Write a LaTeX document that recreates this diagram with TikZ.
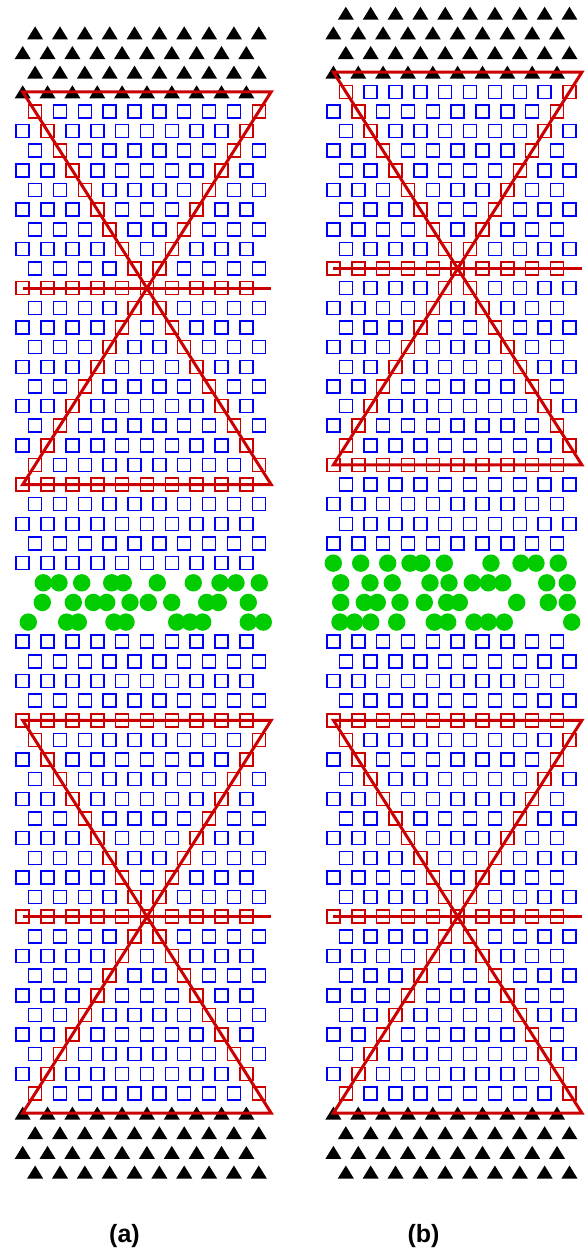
\documentclass[tikz,border=0pt]{standalone}
\usepackage{fontspec}
\setmainfont{Liberation Sans}
\definecolor{latred}{RGB}{204,0,0}
\definecolor{latblue}{RGB}{0,0,255}
\definecolor{latgreen}{RGB}{0,204,0}
\tikzset{
  bluesq/.style={draw=latblue,line width=1.5pt},
  redsq/.style={draw=latred,line width=1.5pt},
  tri/.style={fill=black},
  atomgreen/.style={fill=latgreen},
  redline/.style={draw=latred,line width=3pt},
  lbl/.style={font=\fontsize{25}{30}\selectfont\bfseries}
}
% one row of squares: #1 X0, #2 row index (y), #3 parity, #4 j (-1 = outside)
\newcommand\latsq[4]{%
  \pgfmathsetmacro\yy{1172-19.64*(#2)}%
  \foreach \kk in {0,...,9}{%
    \pgfmathtruncatemacro\hh{2*\kk+#3}%
    \pgfmathtruncatemacro\isred{((#4)>-1)&&((\hh==(#4))||(\hh==20-(#4))||((#4)==10)||((#4)==0)||((#4)==20))}%
    \pgfmathsetmacro\xx{#1+\hh*12.425}%
    \ifnum\isred=1\relax
      \draw[redsq] ({\xx-6.5},{\yy-6.5}) rectangle ({\xx+6.5},{\yy+6.5});
    \else
      \draw[bluesq] ({\xx-6.5},{\yy-6.5}) rectangle ({\xx+6.5},{\yy+6.5});
    \fi
  }}
% one row of triangles: #1 X0, #2 row index, #3 parity
\newcommand\lattri[3]{%
  \pgfmathsetmacro\yy{1172-19.64*(#2)}%
  \foreach \kk in {0,...,9}{%
    \pgfmathsetmacro\xx{#1+(2*\kk+#3)*12.425}%
    \fill[tri] ({\xx-8},{\yy+6.5}) -- ({\xx+8},{\yy+6.5}) -- ({\xx},{\yy-6.5}) -- cycle;
  }}
% hourglass: #1 X0, #2 top row, #3 mid row, #4 bottom row
\newcommand\hourglass[4]{%
  \pgfmathsetmacro\xr{#1+248.5}%
  \pgfmathsetmacro\yt{1172-19.64*(#2)}%
  \pgfmathsetmacro\ym{1172-19.64*(#3)}%
  \pgfmathsetmacro\yb{1172-19.64*(#4)}%
  \draw[redline] (#1,\yt) -- (\xr,\yt) -- (#1,\yb) -- (\xr,\yb) -- cycle;
  \draw[redline] (#1,\ym) -- (\xr,\ym);
}
% whole panel: #1 X0, #2 shift of upper part
\newcommand\latpanel[2]{%
  \foreach \ri in {0,...,3}{%
    \pgfmathtruncatemacro\pp{mod(\ri+1,2)}%
    \lattri{#1}{\ri}{\pp}}
  \foreach \ri in {4,...,27}{%
    \pgfmathtruncatemacro\pp{mod(\ri+1,2)}%
    \pgfmathtruncatemacro\jj{\ri<24 ? 23-\ri : -1}%
    \latsq{#1}{\ri}{\pp}{\jj}}
  \foreach \si in {31,...,54}{%
    \pgfmathtruncatemacro\pp{mod(\si+1,2)}%
    \pgfmathtruncatemacro\jj{\si>34 ? 55-\si : -1}%
    \pgfmathtruncatemacro\ri{\si+#2}%
    \latsq{#1}{\ri}{\pp}{\jj}}
  \foreach \si in {55,...,58}{%
    \pgfmathtruncatemacro\pp{mod(\si+1,2)}%
    \pgfmathtruncatemacro\ri{\si+#2}%
    \lattri{#1}{\ri}{\pp}}
}
\newcommand\greenrow[2]{%
  \pgfmathsetmacro\yy{1172-19.64*(#1)}%
  \foreach \gx in {#2}{\fill[atomgreen] (\gx,\yy) circle[radius=8.7pt];}}
\begin{document}
\begin{tikzpicture}[x=1pt,y=-1pt]
\useasboundingbox (0,0) rectangle (587,1250);
% panel (a)
\latpanel{22.7}{0}
\greenrow{30}{43.3,59,81.7,111.7,123.3,157.3,193.3,220,236,259.3}
\greenrow{29}{42.3,73.3,93.3,106.7,130,148.3,171.7,206.7,218.3,248.3}
\greenrow{28}{28.3,66.7,78.3,114,126,176.7,190,202.7,248.3,263.3}
\hourglass{22.7}{23}{13}{3}
\hourglass{22.7}{55}{45}{35}
% panel (b)
\latpanel{333.4}{1}
\greenrow{31}{333.3,360.7,387.7,410,421.7,444.3,491,521,536,558.3}
\greenrow{30}{340.7,370,392.3,430,449,472.3,488.3,502.7,546.7,567.3}
\greenrow{29}{340.7,364.3,377.3,400,424.3,446.7,459.3,516.7,548.3,567.3}
\greenrow{28}{340,354.3,370.7,396.7,434.3,447.7,474,488.3,504.3,571.7}
\hourglass{333.4}{23}{13}{3}
\hourglass{333.4}{56}{46}{36}
% labels
\node[lbl] (labela) at (124.5,1236) {(a)};
\node[lbl] (labelb) at (423.5,1236) {(b)};
\end{tikzpicture}
\end{document}
